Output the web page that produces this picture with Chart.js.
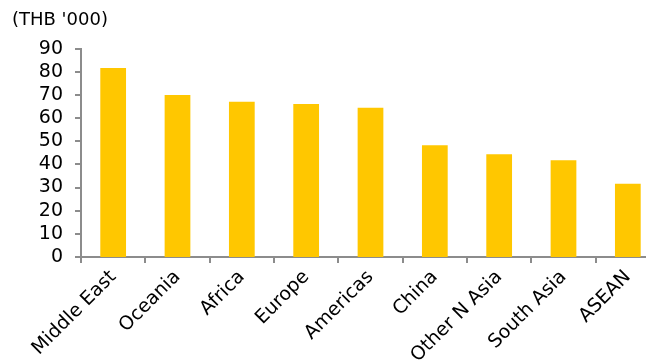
<!DOCTYPE html>
<html>
<head>
<meta charset="utf-8">
<script src="https://cdn.jsdelivr.net/npm/chart.js@4"></script>
<style>
  html, body { margin: 0; padding: 0; background: #fff; overflow: hidden; }
  #wrap { position: relative; width: 660px; height: 361px; }
</style>
</head>
<body>
<div id="wrap"><canvas id="grafico"></canvas></div>
<script>
// Valores (THB '000)
const categorias = ['Middle East', 'Oceania', 'Africa', 'Europe', 'Americas', 'China', 'Other N Asia', 'South Asia', 'ASEAN'];
const valores = [81.6, 70.0, 67.0, 66.1, 64.5, 48.3, 44.4, 41.8, 31.6];
const ticksY = [0, 10, 20, 30, 40, 50, 60, 70, 80, 90];

const corBarra = '#FFC700';
const corEixo = '#8c8c8c';
const fonte = "'DejaVu Sans', sans-serif";

const ctx = document.getElementById('grafico').getContext('2d');
new Chart(ctx, {
  type: 'bar',
  data: {
    labels: categorias,
    datasets: [{
      data: valores,
      backgroundColor: corBarra,
      barPercentage: 0.4,
      categoryPercentage: 1.0
    }]
  },
  options: {
    responsive: true,
    maintainAspectRatio: false,
    animation: false,
    layout: { padding: { left: 12, top: 10, right: 0, bottom: 0 } },
    plugins: {
      legend: { display: false },
      tooltip: { enabled: false },
      title: {
        display: true,
        text: "(THB '000)",
        align: 'start',
        color: '#000',
        font: { family: fonte, size: 18, weight: 'normal', lineHeight: 1.2 },
        padding: { top: 0, bottom: 17 }
      }
    },
    scales: {
      x: {
        grid: { display: false },
        border: { color: corEixo, width: 2 },
        ticks: {
          color: '#000',
          minRotation: 45,
          maxRotation: 45,
          autoSkip: false,
          font: { family: fonte, size: 19 },
          padding: 1
        },
        afterFit: (eixo) => { eixo.height = 104; }
      },
      y: {
        min: 0,
        max: 90,
        afterBuildTicks: (eixo) => { eixo.ticks = ticksY.map(v => ({ value: v })); },
        grid: { display: false },
        border: { color: corEixo, width: 2 },
        ticks: {
          color: '#000',
          autoSkip: false,
          font: { family: fonte, size: 19 },
          padding: 10
        },
        afterFit: (eixo) => { eixo.width = 69; }
      }
    }
  },
  plugins: [{
    // desenha as marcas dos eixos, já que a grade está desligada
    id: 'marcasEixo',
    afterDraw(chart) {
      const c = chart.ctx;
      const x = chart.scales.x, y = chart.scales.y;
      c.save();
      c.strokeStyle = corEixo;
      c.lineWidth = 2;
      c.beginPath();
      ticksY.forEach(v => {
        const py = Math.round(y.getPixelForValue(v));
        c.moveTo(y.right - 6, py);
        c.lineTo(y.right, py);
      });
      for (let i = 0; i <= categorias.length; i++) {
        const px = Math.round(x.left + (x.right - x.left) * i / categorias.length);
        c.moveTo(px, x.top);
        c.lineTo(px, x.top + 6);
      }
      c.stroke();
      c.restore();
    }
  }]
});
</script>
</body>
</html>
